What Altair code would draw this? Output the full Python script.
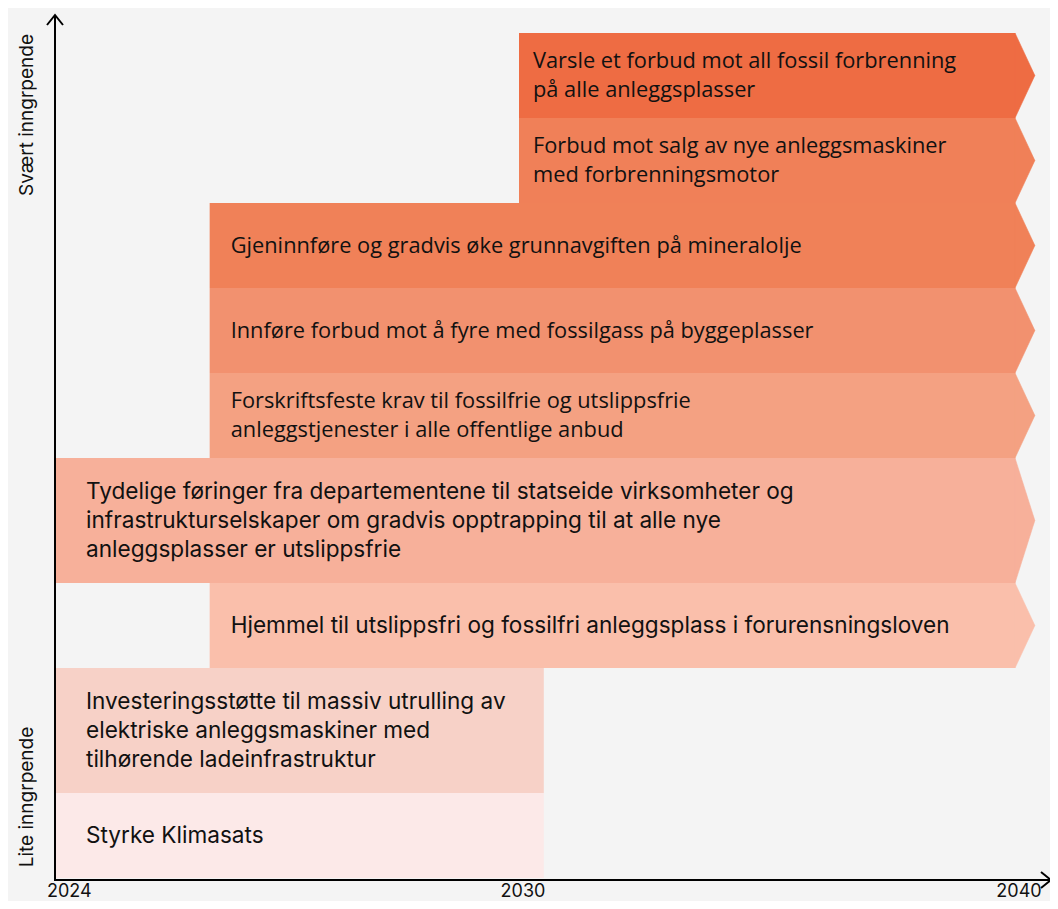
import altair as alt
import pandas as pd

# ---- data ----
texts = [
    "Varsle et forbud mot all fossil forbrenning|på alle anleggsplasser",
    "Forbud mot salg av nye anleggsmaskiner|med forbrenningsmotor",
    "Gjeninnføre og gradvis øke grunnavgiften på mineralolje",
    "Innføre forbud mot å fyre med fossilgass på byggeplasser",
    "Forskriftsfeste krav til fossilfrie og utslippsfrie|anleggstjenester i alle offentlige anbud",
    "Tydelige føringer fra departementene til statseide virksomheter og|infrastrukturselskaper om gradvis opptrapping til at alle nye|anleggsplasser er utslippsfrie",
    "Hjemmel til utslippsfri og fossilfri anleggsplass i forurensningsloven",
    "Investeringsstøtte til massiv utrulling av|elektriske anleggsmaskiner med|tilhørende ladeinfrastruktur",
    "Styrke Klimasats",
]
starts = [2030, 2030, 2026, 2026, 2026, 2024, 2026, 2024, 2024]
ends = [2040, 2040, 2040, 2040, 2040, 2040, 2040, 2030.5, 2030.5]
colors = ["#EE6C43", "#F08058", "#F08158", "#F2916F", "#F4A182",
          "#F7B09A", "#FABFAB", "#F7D1C7", "#FCE9E8"]
ticks = [2024, 2030, 2040]
side_labels = ["Svært inngrpende", "Lite inngrpende"]

ARROW = 0.4   # arrow-head length in years
LH = 29       # text line height

rows = []
top = 0
for i, (t, s, e, c) in enumerate(zip(texts, starts, ends, colors)):
    n = len(t.split("|"))
    h = 125 if n >= 3 else 85
    mid = top + h / 2
    rows.append(dict(idx=i, label=t, start=s, end=e, color=c,
                     top=top, bottom=top + h, mid=mid,
                     ty=mid - (n - 1) * LH / 2))
    top += h
TOTAL = top
df = pd.DataFrame(rows)

arrows = []
for r in rows:
    if r["end"] == 2040:
        arrows.append(dict(idx=r["idx"], x=r["end"], y=r["top"], y2=r["bottom"], color=r["color"]))
        arrows.append(dict(idx=r["idx"], x=r["end"] + ARROW, y=r["mid"], y2=r["mid"], color=r["color"]))
adf = pd.DataFrame(arrows)

W, H = 1042, 893
xscale = alt.Scale(domain=ticks, range=[47, 511, 1007], nice=False, zero=False)
yscale = alt.Scale(domain=[0, TOTAL], range=[25, 25 + TOTAL], nice=False, zero=False)

bars = alt.Chart(df).mark_rect().encode(
    x=alt.X("start:Q", scale=xscale, axis=None),
    x2="end:Q",
    y=alt.Y("top:Q", scale=yscale, axis=None),
    y2="bottom:Q",
    color=alt.Color("color:N", scale=None),
)

heads = alt.Chart(adf).mark_area(strokeWidth=0.6).encode(
    x=alt.X("x:Q", scale=xscale, axis=None),
    y=alt.Y("y:Q", scale=yscale, axis=None),
    y2="y2:Q",
    detail="idx:N",
    color=alt.Color("color:N", scale=None),
    stroke=alt.Stroke("color:N", scale=None),
)

def text_layer(flt, font, size, dx):
    return alt.Chart(df).transform_filter(flt).transform_calculate(
        lines="split(datum.label, '|')"
    ).mark_text(
        align="left", baseline="middle", font=font, fontSize=size,
        lineHeight=LH, dx=dx, color="#111111"
    ).encode(
        x=alt.X("start:Q", scale=xscale, axis=None),
        y=alt.Y("ty:Q", scale=yscale, axis=None),
        text="lines:N",
    )

t1a = text_layer("datum.idx < 5 && datum.start == 2030", "Open Sans", 21.8, 14)
t1b = text_layer("datum.idx < 5 && datum.start != 2030", "Open Sans", 21.8, 21)
t2 = text_layer("datum.idx >= 5 && datum.start == 2024", "Inter", 22.6, 31)
t3 = text_layer("datum.idx >= 5 && datum.start != 2024", "Inter", 22.6, 21)

axis_df = pd.DataFrame({"x": [ticks[0]]})
yaxis = alt.Chart(axis_df).mark_rule(color="#000000", strokeWidth=2).encode(
    x=alt.X("x:Q", scale=xscale, axis=None),
    y=alt.value(7), y2=alt.value(873),
)
xaxis = alt.Chart(axis_df).mark_rule(color="#000000", strokeWidth=2).encode(
    x=alt.X("x:Q", scale=xscale, axis=None),
    x2=alt.value(1042),
    y=alt.value(872),
)
up_head = alt.Chart(axis_df).mark_point(
    shape="M-0.8,1L0,0L0.8,1", size=400, filled=False, strokeWidth=2, color="#000000", opacity=1
).encode(x=alt.X("x:Q", scale=xscale, axis=None), y=alt.value(7))
right_head = alt.Chart(axis_df).mark_point(
    shape="M-1,-0.8L0,0L-1,0.8", size=400, filled=False, strokeWidth=2, color="#000000", opacity=1
).encode(x=alt.value(1043), y=alt.value(872))

tick_df = pd.DataFrame({"year": ticks, "lab": [str(t) for t in ticks]})
tl_first = alt.Chart(tick_df).transform_filter(f"datum.year == {ticks[0]}").mark_text(
    align="left", baseline="middle", font="Inter", fontSize=18, dx=-8, color="#111111"
).encode(x=alt.X("year:Q", scale=xscale, axis=None), y=alt.value(884), text="lab:N")
tl_rest = alt.Chart(tick_df).transform_filter(f"datum.year != {ticks[0]}").mark_text(
    align="center", baseline="middle", font="Inter", fontSize=18, dx=4, color="#111111"
).encode(x=alt.X("year:Q", scale=xscale, axis=None), y=alt.value(884), text="lab:N")

side_df = pd.DataFrame({"lab": side_labels, "pos": ["top", "bottom"]})
side_top = alt.Chart(side_df).transform_filter("datum.pos == 'top'").mark_text(
    angle=270, align="center", baseline="middle", font="Inter", fontSize=19, color="#111111"
).encode(x=alt.value(19), y=alt.value(107), text="lab:N")
side_bot = alt.Chart(side_df).transform_filter("datum.pos == 'bottom'").mark_text(
    angle=270, align="center", baseline="middle", font="Inter", fontSize=19, color="#111111"
).encode(x=alt.value(19), y=alt.value(789), text="lab:N")

chart = alt.layer(
    bars, heads, t1a, t1b, t2, t3, yaxis, xaxis, up_head, right_head,
    tl_first, tl_rest, side_top, side_bot
).properties(
    width=W, height=H, background="#F4F4F4", padding=0,
    autosize=alt.AutoSizeParams(type="none")
).configure_view(stroke=None)

chart.save("out.html", embed_options={"renderer": "svg", "actions": False})
